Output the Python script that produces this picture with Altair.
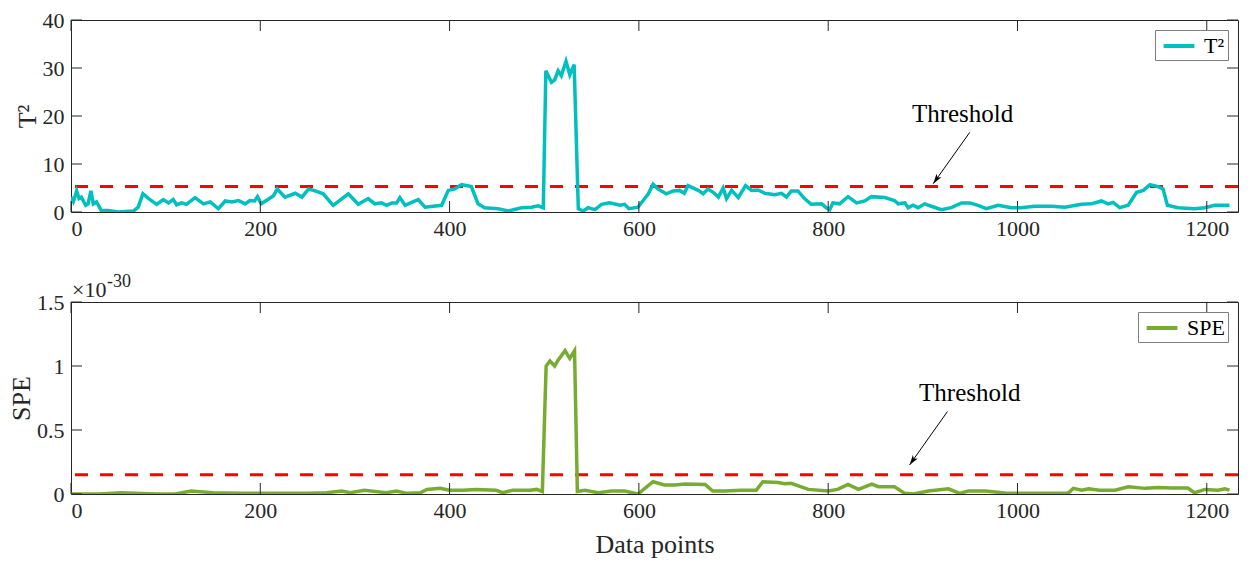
import altair as alt
import pandas as pd

# ---------------- data ----------------
t2_x = [0, 2.5, 6, 8.5, 11, 15.5, 18, 21, 23.6, 27, 32, 39, 50, 66, 71, 76, 82, 90.5, 97.5, 103,
        108, 111.6, 117, 122, 131, 140, 147, 155.6, 163, 170, 177, 184, 189, 194, 197, 201, 208,
        214, 218, 226, 237, 244, 251, 258, 266.5, 277, 293, 303.5, 314, 321, 328, 333.5, 339, 344,
        347.5, 353, 360, 367, 374, 391.6, 398.6, 405.6, 412.7, 423, 430, 437, 451, 462, 476, 486.6,
        493.6, 499, 501.7, 507.7, 511, 514.7, 518, 523, 527, 531.6, 536, 541, 546.4, 553.5, 560.6,
        569, 580, 585, 589.4, 599, 610, 615, 620, 629, 636, 643, 648, 652, 662.6, 668, 673, 678.5,
        684, 689, 692.6, 698, 705, 712.7, 719, 726, 733, 743.6, 750.7, 756, 761, 768, 775, 782, 793,
        798, 801.7, 805, 812, 821, 830, 838.7, 845.7, 859.8, 870, 874, 881, 884.5, 889.7, 895, 902,
        909, 919.7, 930, 941, 949.7, 958.4, 967, 979.5, 993.6, 1004, 1018, 1036, 1050, 1067.6, 1078,
        1088.7, 1095.7, 1101, 1108, 1117, 1125.9, 1133, 1140, 1148.5, 1153.8, 1158.4, 1169.6, 1187,
        1197.8, 1208.4, 1224]
t2_y = [3.1, 2.2, 4.4, 2.8, 3.1, 1.4, 1.7, 4.4, 1.7, 2.1, 0.3, 0.3, 0.0, 0.2, 1.0, 3.8, 2.8, 1.6, 2.6, 1.9,
        2.6, 1.5, 1.9, 1.6, 3.0, 1.7, 2.1, 0.7, 2.3, 2.1, 2.4, 1.7, 2.4, 2.3, 3.2, 1.7, 2.6,
        3.4, 4.8, 3.1, 3.9, 3.1, 4.8, 4.4, 3.8, 1.4, 3.8, 1.6, 2.8, 1.7, 1.9, 1.4, 1.9, 1.9,
        3.0, 1.4, 2.0, 2.6, 1.0, 1.4, 4.5, 4.8, 5.7, 5.3, 1.7, 0.9, 0.7, 0.2, 0.9, 1.0,
        1.3, 0.9, 29.4, 27.0, 27.5, 29.4, 28.4, 31.4, 28.6, 30.7, 0.7, 0.2, 0.9, 0.5, 1.6,
        1.9, 1.4, 1.6, 0.7, 1.0, 3.8, 5.8, 4.8, 3.8, 4.4, 4.5, 3.9, 5.5, 4.5, 3.8, 4.8, 4.1,
        3.1, 5.0, 2.8, 4.5, 3.0, 5.5, 4.5, 4.6, 3.9, 3.6, 3.9, 3.1, 4.4, 4.4, 2.8, 1.6, 1.7,
        0.9, 0.5, 1.9, 1.7, 3.2, 1.9, 2.3, 3.2, 3.0, 2.4, 1.7, 1.9, 0.9, 1.4, 0.9, 1.7,
        1.2, 0.5, 0.9, 1.9, 1.9, 1.4, 0.7, 1.4, 0.9, 0.9, 1.2, 1.2, 1.0, 1.6, 1.7,
        2.3, 1.7, 2.0, 0.9, 1.4, 4.1, 4.5, 5.7, 5.3, 4.8, 1.4, 0.9, 0.7,
        0.9, 1.4, 1.4]

spe_x = [0, 30, 53, 90, 110, 127, 150, 180, 210, 250, 270, 286, 295, 310, 333, 344, 355, 369, 376,
         390, 400, 414, 428, 449, 456, 467, 485, 492, 498, 502, 506, 511, 515, 522, 527, 532, 535,
         543, 557, 571, 585, 599, 615, 627, 638, 649, 670, 678, 691, 708, 724, 731, 747, 754, 761,
         779, 800, 810, 821, 832, 846, 853, 870, 881, 890, 906, 927, 939, 948, 966, 987, 1008, 1029,
         1050, 1054, 1059, 1068, 1075, 1087, 1103, 1117, 1135, 1149, 1163, 1180, 1187, 1198, 1212,
         1219, 1224]
spe_y = [0.0, 0.0, 0.01, 0.0, 0.0, 0.023, 0.01, 0.005, 0.005, 0.005, 0.01, 0.023, 0.01, 0.03, 0.01,
         0.023, 0.005, 0.01, 0.036, 0.044, 0.03, 0.03, 0.036, 0.03, 0.01, 0.03, 0.03, 0.036, 0.02,
         1.00, 1.04, 1.00, 1.05, 1.12, 1.06, 1.12, 0.02, 0.03, 0.01, 0.023, 0.023, 0.0, 0.096, 0.07,
         0.07, 0.078, 0.075, 0.023, 0.023, 0.03, 0.03, 0.096, 0.09, 0.08, 0.083, 0.036, 0.023, 0.036,
         0.075, 0.036, 0.078, 0.057, 0.057, 0.005, 0.0, 0.023, 0.04, 0.005, 0.023, 0.023, 0.008,
         0.005, 0.005, 0.005, 0.01, 0.044, 0.03, 0.04, 0.03, 0.03, 0.057, 0.044, 0.05, 0.047, 0.047,
         0.01, 0.036, 0.03, 0.04, 0.03]

x_ticks = [0, 200, 400, 600, 800, 1000, 1200]
t2_ticks = [0, 10, 20, 30, 40]
spe_ticks = [0, 0.5, 1, 1.5]
T2_LIMIT = 5.3
SPE_LIMIT = 0.151
X_MAX = 1233

# annotation anchors (data coordinates)
t2_note = {"x": [942], "y": [20.4], "x0": [949.6], "y0": [16.6], "x1": [911], "y1": [5.9]}
spe_note = {"x": [949.6], "y": [0.79], "x0": [926], "y0": [0.644], "x1": [886], "y1": [0.227]}

# ---------------- style ----------------
W, H = 1167, 192
FONT = "Liberation Serif"
AX = "#262626"
ARROW = "M0,0L0.6,2L0,1.5L-0.6,2Z"
SWATCH = "M-1.4,0L1.4,0"


def panel(xv, yv, name, color, limit, ymax, yticks, ytitle, xtitle, note, extra=None):
    xs = alt.Scale(domain=[0, X_MAX], nice=False, zero=False)
    ys = alt.Scale(domain=[0, ymax], nice=False, zero=False)
    ax_x = alt.Axis(values=x_ticks, format="d", ticks=False, domain=False, grid=False,
                    title=xtitle, labelPadding=6, titlePadding=10,
                    labelFont=FONT, labelFontSize=22, labelColor=AX,
                    titleFont=FONT, titleFontSize=26, titleColor=AX, titleFontWeight="normal")
    ax_y = alt.Axis(values=yticks, ticks=False, domain=False, grid=False, title=ytitle,
                    labelExpr="'' + datum.value", labelPadding=7, titlePadding=2,
                    labelFont=FONT, labelFontSize=22, labelColor=AX,
                    titleFont=FONT, titleFontSize=26, titleColor=AX, titleFontWeight="normal")

    def X(f):
        return alt.X(f, scale=xs, axis=ax_x)

    def Y(f):
        return alt.Y(f, scale=ys, axis=ax_y)

    df = pd.DataFrame({"x": xv, "y": yv, "series": [name] * len(xv)})

    line = alt.Chart(df).mark_line(strokeWidth=3.5, clip=True).encode(
        x=X("x:Q"), y=Y("y:Q"),
        color=alt.Color("series:N", scale=alt.Scale(domain=[name], range=[color]),
                        legend=alt.Legend(title=None, orient="top-right", offset=10,
                                          symbolType=SWATCH, symbolStrokeWidth=4,
                                          symbolSize=484, symbolOffset=8,
                                          labelFont=FONT, labelFontSize=22,
                                          labelColor="black", strokeColor="#7f7f7f",
                                          fillColor="white", padding=3, labelOffset=12)),
    )

    thr = alt.Chart(pd.DataFrame({"v": [limit]})).mark_rule(
        color="#ff0000", strokeWidth=3, strokeDash=[13, 12]).encode(y=Y("v:Q"))

    xt = pd.DataFrame({"t": x_ticks})
    yt = pd.DataFrame({"t": yticks})
    tick_b = alt.Chart(xt).mark_rule(color=AX, strokeWidth=1).encode(
        x=X("t:Q"), y=alt.value(H), y2=alt.value(H - 11))
    tick_t = alt.Chart(xt).mark_rule(color=AX, strokeWidth=1).encode(
        x=X("t:Q"), y=alt.value(0), y2=alt.value(11))
    tick_l = alt.Chart(yt).mark_rule(color=AX, strokeWidth=1).encode(
        y=Y("t:Q"), x=alt.value(0), x2=alt.value(11))
    tick_r = alt.Chart(yt).mark_rule(color=AX, strokeWidth=1).encode(
        y=Y("t:Q"), x=alt.value(W), x2=alt.value(W - 11))

    nd = pd.DataFrame(note)
    txt = alt.Chart(nd).mark_text(text="Threshold", font=FONT, fontSize=25, color="black",
                                  align="center", baseline="middle").encode(
        x=X("x:Q"), y=Y("y:Q"))
    arr = alt.Chart(nd).mark_rule(color="black", strokeWidth=1).encode(
        x=X("x0:Q"), y=Y("y0:Q"), x2="x1:Q", y2="y1:Q")
    head = alt.Chart(nd).mark_point(shape=ARROW, filled=True, size=100, angle=215,
                                    color="black", opacity=1, strokeWidth=0).encode(
        x=X("x1:Q"), y=Y("y1:Q"))

    layers = [thr, line, tick_b, tick_t, tick_l, tick_r, arr, head, txt]
    if extra:
        layers += extra
    return alt.layer(*layers).properties(width=W, height=H)


one = pd.DataFrame({"a": [0]})
exp_base = alt.Chart(one).mark_text(text="×10", font=FONT, fontSize=22, color=AX,
                                    align="left", baseline="alphabetic").encode(
    x=alt.value(1), y=alt.value(-5))
exp_sup = alt.Chart(one).mark_text(text="-30", font=FONT, fontSize=18, color=AX,
                                   align="left", baseline="alphabetic").encode(
    x=alt.value(36), y=alt.value(-15))

top = panel(t2_x, t2_y, "T²", "#00bfbf", T2_LIMIT, 40, t2_ticks, "T²", None, t2_note)
bottom = panel(spe_x, spe_y, "SPE", "#77ac30", SPE_LIMIT, 1.5, spe_ticks, "SPE", "Data points",
               spe_note, extra=[exp_base, exp_sup])

chart = alt.vconcat(top, bottom, spacing=32).resolve_scale(color="independent").properties(
    padding={"left": 0, "top": 0, "right": 0, "bottom": 0}, background="white"
).configure_view(stroke=AX, strokeWidth=1)

chart.save("out.html", embed_options={"renderer": "svg", "actions": False})
